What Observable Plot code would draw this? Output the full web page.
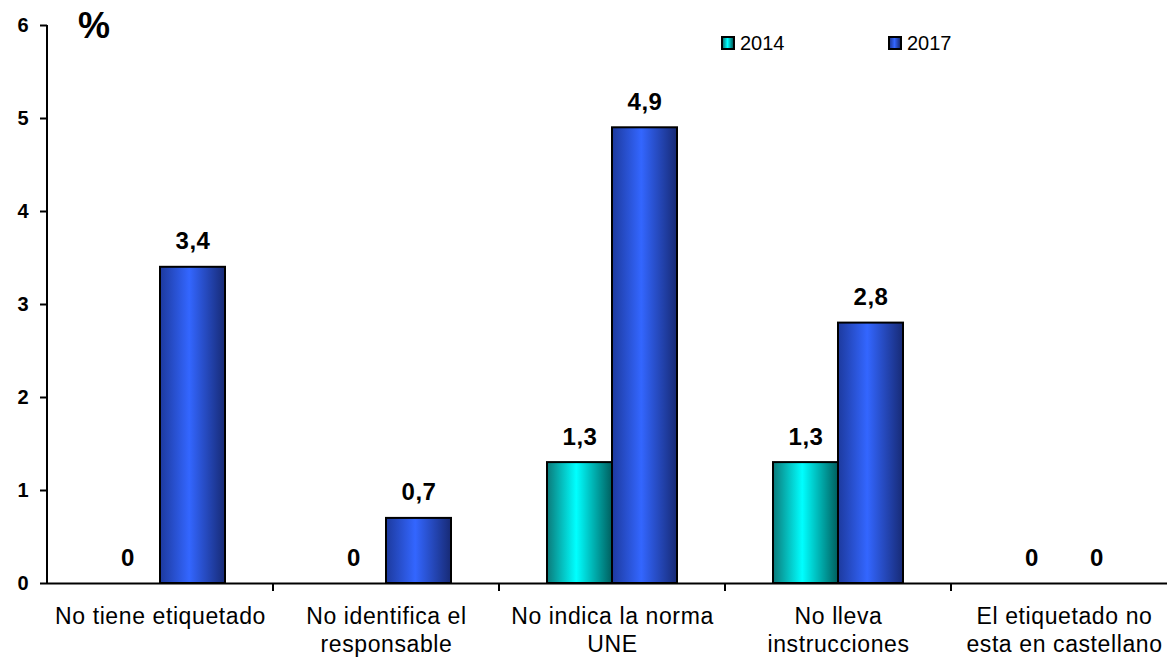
<!DOCTYPE html>
<html><head><meta charset="utf-8">
<script src="https://cdn.jsdelivr.net/npm/d3@7"></script>
<script src="https://cdn.jsdelivr.net/npm/@observablehq/plot@0.6"></script>
<style>
body{margin:0;background:#fff;font-family:"Liberation Sans",Arial,sans-serif;}
#wrap{position:relative;width:1167px;height:657px;overflow:hidden}
.leg{position:absolute;top:33px;font-size:20px;display:flex;align-items:center;gap:5px;line-height:1}
.sw{width:10px;height:10px;border:2px solid #000;}
#pct{position:absolute;left:78px;top:5px;font-size:36px;font-weight:bold}
g[aria-label="fx-axis tick label"] text{letter-spacing:0.6px}
g[aria-label="text"] text{letter-spacing:0.5px}
</style></head><body><div id="wrap"></div>
<script>
const categories = ["No tiene etiquetado","No identifica el\nresponsable","No indica la norma\nUNE","No lleva\ninstrucciones","El etiquetado no\nesta en castellano"];
const years = ["2014","2017"];
const values2014 = [0,0,1.3,1.3,0];
const values2017 = [3.4,0.7,4.9,2.8,0];
const yTicks = [0,1,2,3,4,5,6];
const yearColors = {"2014":["#0b7a7a","#00ffff","#005f5f"],"2017":["#1d3a9e","#3366ff","#172a75"]};

const data = categories.flatMap((c,i)=>[
  {category:c, year:"2014", value: values2014[i]},
  {category:c, year:"2017", value: values2017[i]}
]);
const fmt = v => String(v).replace(".", ",");

const plot = Plot.plot({
  width:1167, height:657, marginLeft:45, marginRight:-11, marginTop:25, marginBottom:74,
  style:{fontFamily:"Liberation Sans, Arial, sans-serif", color:"#000", background:"#fff", overflow:"visible"},
  fx:{domain:categories, padding:0, label:null},
  x:{domain:years, paddingInner:0, paddingOuter:0.729, axis:null},
  y:{domain:[0,6], axis:null},
  color:{type:"identity"},
  marks:[
    Plot.axisFx({tickSize:0, tickPadding:21, fontSize:23, lineHeight:1.22, label:null, anchor:"bottom"}),
    Plot.axisY({ticks:yTicks, tickSize:7, tickPadding:12, fontSize:20, fontWeight:"bold", label:null, tickFormat:d=>String(d), strokeWidth:2}),
    Plot.barY(data.filter(d=>d.value>0), {fx:"category", x:"year", y:"value", fill:d=>`url(#grad${d.year})`, stroke:"#000", strokeWidth:2}),
    Plot.ruleY([0], {strokeWidth:2}),
    Plot.text(data, {fx:"category", x:"year", y:"value", text:d=>fmt(d.value), dy:-18, lineAnchor:"bottom", fontSize:24, fontWeight:"bold"})
  ]
});

const svg = d3.select(plot);
const defs = svg.insert("defs", ":first-child");
for (const yr of years) {
  const g = defs.append("linearGradient").attr("id", "grad"+yr).attr("x1",0).attr("x2",1).attr("y1",0).attr("y2",0);
  const [a,b,c] = yearColors[yr];
  g.append("stop").attr("offset","0%").attr("stop-color",a);
  g.append("stop").attr("offset","45%").attr("stop-color",b);
  g.append("stop").attr("offset","100%").attr("stop-color",c);
}
const fx = plot.scale("fx"), y = plot.scale("y");
const y0 = y.apply(0), y6 = y.apply(6);
const x0 = fx.apply(categories[0]);
const ax = svg.append("g").attr("stroke","#000").attr("stroke-width",2);
ax.append("line").attr("x1",x0).attr("x2",x0).attr("y1",y6).attr("y2",y0);
const edges = categories.slice(1).map(c=>fx.apply(c));
edges.push(fx.apply(categories[categories.length-1]) + fx.bandwidth);
for (const e of edges) ax.append("line").attr("x1",e).attr("x2",e).attr("y1",y0).attr("y2",y0+8);

const wrap = document.getElementById("wrap");
wrap.appendChild(plot);
const pct = document.createElement("div"); pct.id="pct"; pct.textContent="%"; wrap.appendChild(pct);
const legPos = {"2014":721,"2017":888};
for (const yr of years) {
  const d = document.createElement("div"); d.className="leg"; d.style.left=legPos[yr]+"px";
  const [a,b,c] = yearColors[yr];
  d.innerHTML = `<span class="sw" style="background:linear-gradient(90deg,${a},${b} 45%,${c})"></span><span>${yr}</span>`;
  wrap.appendChild(d);
}
</script></body></html>
